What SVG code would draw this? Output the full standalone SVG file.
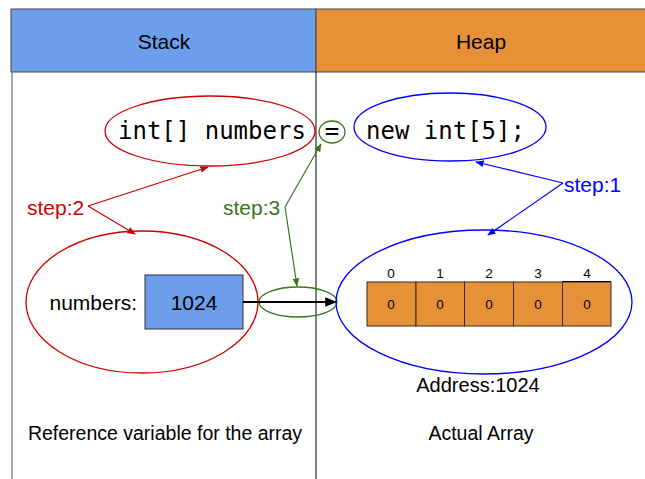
<svg xmlns="http://www.w3.org/2000/svg" width="645" height="479" viewBox="0 0 645 479">
<defs>
<style>
.t{font-family:"Liberation Sans",Arial,sans-serif;fill:#000}
.m{font-family:"DejaVu Sans Mono","Liberation Mono",monospace;font-size:24px;fill:#000}
.cell{fill:#e69138;stroke:#3d2b1f;stroke-width:1}
</style>
<marker id="ar" viewBox="0 0 10 10" refX="9" refY="5" markerWidth="7" markerHeight="7" orient="auto"><path d="M0,1 L10,5 L0,9 z" fill="#cc0000"/></marker>
<marker id="ag" viewBox="0 0 10 10" refX="9" refY="5" markerWidth="7" markerHeight="7" orient="auto"><path d="M0,1 L10,5 L0,9 z" fill="#38761d"/></marker>
<marker id="ab" viewBox="0 0 10 10" refX="9" refY="5" markerWidth="7" markerHeight="7" orient="auto"><path d="M0,1 L10,5 L0,9 z" fill="#0000ff"/></marker>
<marker id="ak" viewBox="0 0 10 10" refX="9" refY="5" markerWidth="6" markerHeight="6" orient="auto"><path d="M0,1 L10,5 L0,9 z" fill="#000"/></marker>
</defs>
<rect width="645" height="479" fill="#fff"/>
<g id="header">
<rect x="11" y="9" width="305" height="63" fill="#6d9eeb" stroke="#444" stroke-width="1"/>
<rect x="316" y="9" width="335" height="63" fill="#e69138" stroke="#444" stroke-width="1"/>
<text class="t" x="164" y="49" font-size="21" text-anchor="middle">Stack</text>
<text class="t" x="481" y="49" font-size="21" text-anchor="middle">Heap</text>
</g>
<g id="frame" stroke="#000" stroke-width="1">
<line x1="12" y1="72" x2="12" y2="479" stroke="#555"/>
<line x1="316" y1="72" x2="316" y2="479"/>
</g>
<g id="decl">
<ellipse cx="210" cy="131" rx="105" ry="35" fill="none" stroke="#cc0000" stroke-width="1.3"/>
<text class="m" x="118" y="139">int[] numbers</text>
</g>
<g id="eq">
<ellipse cx="332" cy="132" rx="13" ry="11" fill="none" stroke="#38761d" stroke-width="1.3"/>
<text class="m" x="332" y="139" text-anchor="middle">=</text>
</g>
<g id="newint">
<ellipse cx="450" cy="127" rx="96" ry="34" fill="none" stroke="#0000ff" stroke-width="1.3"/>
<text class="m" x="366" y="139">new int[5];</text>
</g>
<g id="stackvar">
<ellipse cx="142" cy="302" rx="116" ry="71" fill="none" stroke="#cc0000" stroke-width="1.3"/>
<text class="t" x="137" y="310" font-size="21" text-anchor="end">numbers:</text>
<rect x="145" y="275" width="98" height="54" fill="#6d9eeb" stroke="#333" stroke-width="1"/>
<text class="t" x="194" y="310" font-size="21" text-anchor="middle">1024</text>
</g>
<g id="ref">
<ellipse cx="298" cy="302" rx="39" ry="15" fill="none" stroke="#38761d" stroke-width="1.3"/>
</g>
<g id="heaparr">
<ellipse cx="484" cy="302" rx="148" ry="72" fill="none" stroke="#0000ff" stroke-width="1.3"/>
<rect class="cell" x="367" y="282" width="49" height="44"/>
<rect class="cell" x="416" y="282" width="48.5" height="44"/>
<rect class="cell" x="464.5" y="282" width="49" height="44"/>
<rect class="cell" x="513.5" y="282" width="49" height="44"/>
<rect class="cell" x="562.5" y="282" width="48.5" height="44"/>
<line x1="562.5" y1="281.5" x2="611" y2="281.5" stroke="#000" stroke-width="1"/>
<g class="t" font-size="13.5" text-anchor="middle">
<text x="391" y="278">0</text><text x="440" y="278">1</text><text x="489" y="278">2</text><text x="538" y="278">3</text><text x="587" y="278">4</text>
<text x="391" y="309">0</text><text x="440" y="309">0</text><text x="489" y="309">0</text><text x="538" y="309">0</text><text x="587" y="309">0</text>
</g>
</g>
<g id="labels" class="t" text-anchor="middle">
<text x="478" y="392" font-size="20">Address:1024</text>
<text x="165" y="440" font-size="19.5">Reference variable for the array</text>
<text x="481" y="440" font-size="19.5">Actual Array</text>
</g>
<g id="steps" font-family="Liberation Sans,Arial,sans-serif" font-size="21">
<text x="27" y="215" fill="#cc0000">step:2</text>
<text x="223" y="215" fill="#38761d">step:3</text>
<text x="564" y="192" fill="#0000ff">step:1</text>
</g>
<g id="connectors" fill="none" stroke-width="1.2">
<line x1="88" y1="206" x2="208" y2="167" stroke="#cc0000" marker-end="url(#ar)"/>
<line x1="88" y1="206" x2="135" y2="234" stroke="#cc0000" marker-end="url(#ar)"/>
<line x1="285" y1="207" x2="321" y2="144" stroke="#38761d" marker-end="url(#ag)"/>
<line x1="285" y1="207" x2="297" y2="286" stroke="#38761d" marker-end="url(#ag)"/>
<line x1="563" y1="183" x2="476" y2="162" stroke="#0000ff" marker-end="url(#ab)"/>
<line x1="563" y1="183" x2="488" y2="235" stroke="#0000ff" marker-end="url(#ab)"/>
<line x1="243" y1="302" x2="336" y2="302" stroke="#000" stroke-width="2" marker-end="url(#ak)"/>
</g>
</svg>
